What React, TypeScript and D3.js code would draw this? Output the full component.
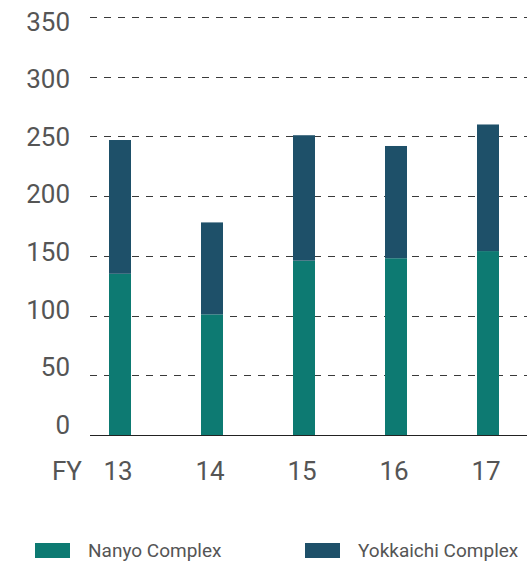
import { useEffect, useRef } from "react";
import * as d3 from "d3";

const years = ["13", "14", "15", "16", "17"];
const nanyo = [135, 101, 146, 148, 154];
const yokkaichi = [112, 77, 105, 94, 106];
const yTicks = [0, 50, 100, 150, 200, 250, 300, 350];
const seriesNames = ["Nanyo Complex", "Yokkaichi Complex"];
const colors = ["#0d7a72", "#1e5069"];

const dims = {
  width: 527,
  height: 561,
  left: 90,
  right: 527,
  barWidth: 22,
};

export default function App() {
  const ref = useRef<SVGSVGElement>(null);

  useEffect(() => {
    const svg = d3.select(ref.current);
    svg.selectAll("*").remove();

    const font = "Roboto, 'Liberation Sans', sans-serif";
    const table = years.map((yr, i) => ({ year: yr, nanyo: nanyo[i], yokkaichi: yokkaichi[i] }));
    const stacked = d3.stack<any>().keys(["nanyo", "yokkaichi"])(table);

    const y = d3.scaleLinear().domain([0, 350]).range([435, 17]);
    // tick labels in the source drift off the gridlines a little
    const yLabel = d3.scaleLinear().domain([0, 350]).range([434, 30.5]);
    const x = d3.scalePoint().domain(years).range([120, 488]);

    // gridlines
    svg
      .append("g")
      .selectAll("line")
      .data(yTicks.filter((t) => t > 0))
      .enter()
      .append("line")
      .attr("x1", dims.left)
      .attr("x2", dims.right)
      .attr("y1", (d) => Math.round(y(d)) + 0.5)
      .attr("y2", (d) => Math.round(y(d)) + 0.5)
      .attr("stroke", "#3a3a3a")
      .attr("stroke-width", 1)
      .attr("stroke-dasharray", "7,7");

    // y labels
    svg
      .append("g")
      .selectAll("text")
      .data(yTicks)
      .enter()
      .append("text")
      .attr("x", 70)
      .attr("y", (d) => yLabel(d))
      .attr("text-anchor", "end")
      .attr("font-family", font)
      .attr("font-size", 26)
      .attr("fill", "#555")
      .text((d) => d);

    // bars
    svg
      .append("g")
      .selectAll("g")
      .data(stacked)
      .enter()
      .append("g")
      .attr("fill", (_, i) => colors[i])
      .selectAll("rect")
      .data((d) => d)
      .enter()
      .append("rect")
      .attr("x", (d: any) => x(d.data.year)! - dims.barWidth / 2)
      .attr("width", dims.barWidth)
      .attr("y", (d) => y(d[1]))
      .attr("height", (d) => y(d[0]) - y(d[1]));

    // baseline
    svg
      .append("line")
      .attr("x1", dims.left)
      .attr("x2", dims.right)
      .attr("y1", y(0) + 0.5)
      .attr("y2", y(0) + 0.5)
      .attr("stroke", "#222")
      .attr("stroke-width", 1);

    // x labels
    svg
      .append("text")
      .attr("x", 82)
      .attr("y", 480)
      .attr("text-anchor", "end")
      .attr("font-family", font)
      .attr("font-size", 26)
      .attr("fill", "#555")
      .text("FY");

    svg
      .append("g")
      .selectAll("text")
      .data(years)
      .enter()
      .append("text")
      .attr("x", (d) => x(d)! - 2)
      .attr("y", 480)
      .attr("text-anchor", "middle")
      .attr("font-family", font)
      .attr("font-size", 26)
      .attr("fill", "#555")
      .text((d) => d);

    // legend
    const legendX = [35, 305];
    const legend = svg
      .append("g")
      .selectAll("g")
      .data(seriesNames)
      .enter()
      .append("g")
      .attr("transform", (_, i) => `translate(${legendX[i]},543)`);
    legend
      .append("rect")
      .attr("width", 35)
      .attr("height", 15)
      .attr("fill", (_, i) => colors[i]);
    legend
      .append("text")
      .attr("x", 53)
      .attr("y", 13.5)
      .attr("font-family", font)
      .attr("font-size", 19)
      .attr("fill", "#555")
      .text((d) => d);
  }, []);

  return (
    <svg
      ref={ref}
      width={dims.width}
      height={dims.height}
      style={{ position: "absolute", left: 0, top: 0, background: "#fff" }}
    />
  );
}
